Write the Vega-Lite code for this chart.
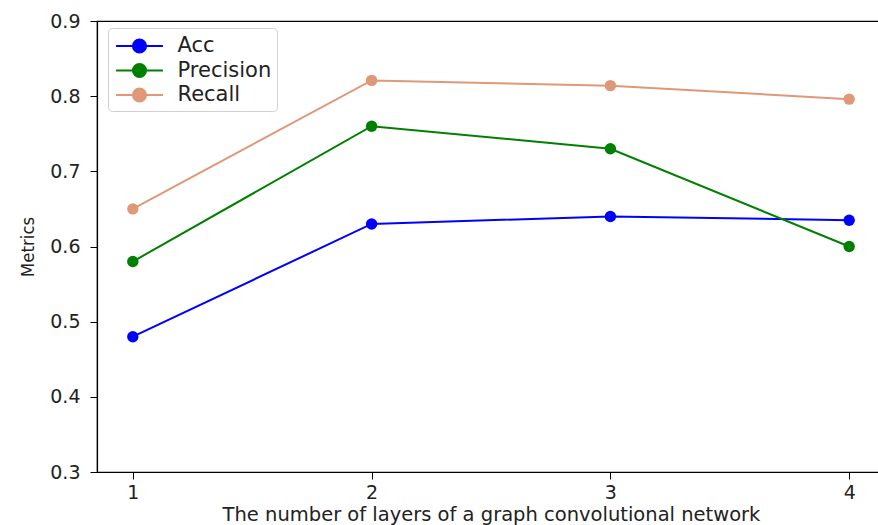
{
  "$schema": "https://vega.github.io/schema/vega-lite/v6.json",
  "autosize": {"type": "none"},
  "padding": {"left": 97, "top": 21, "right": 0, "bottom": 53},
  "width": 788,
  "height": 451,
  "background": "white",
  "config": {
    "view": {"stroke": "black", "strokeWidth": 1.2},
    "font": "DejaVu Sans",
    "axis": {"grid": false, "domainColor": "black", "tickColor": "black", "labelColor": "#222", "labelFont": "DejaVu Sans", "labelFontSize": 19, "titleFont": "DejaVu Sans", "titleFontWeight": "normal", "titleColor": "#222", "tickSize": 7, "domainWidth": 1.2}
  },
  "data": {
    "values": [
      {"layers": 1, "metric": "Acc", "value": 0.48},
      {"layers": 2, "metric": "Acc", "value": 0.63},
      {"layers": 3, "metric": "Acc", "value": 0.64},
      {"layers": 4, "metric": "Acc", "value": 0.635},
      {"layers": 1, "metric": "Precision", "value": 0.58},
      {"layers": 2, "metric": "Precision", "value": 0.76},
      {"layers": 3, "metric": "Precision", "value": 0.73},
      {"layers": 4, "metric": "Precision", "value": 0.60},
      {"layers": 1, "metric": "Recall", "value": 0.65},
      {"layers": 2, "metric": "Recall", "value": 0.821},
      {"layers": 3, "metric": "Recall", "value": 0.814},
      {"layers": 4, "metric": "Recall", "value": 0.796}
    ]
  },
  "mark": {"type": "line", "strokeWidth": 2, "point": {"filled": true, "size": 130, "opacity": 1}},
  "encoding": {
    "x": {
      "field": "layers", "type": "quantitative",
      "scale": {"domain": [0.85, 4.15], "nice": false, "zero": false},
      "axis": {"values": [1, 2, 3, 4], "format": "d", "title": "The number of layers of a graph convolutional network", "titleFontSize": 19.5, "titlePadding": 3, "labelPadding": 4}
    },
    "y": {
      "field": "value", "type": "quantitative",
      "scale": {"domain": [0.3, 0.9], "nice": false, "zero": false},
      "axis": {"values": [0.3, 0.4, 0.5, 0.6, 0.7, 0.8, 0.9], "format": ".1f", "title": "Metrics", "titleFont": "DejaVu Sans Condensed", "titleFontSize": 18.5, "titlePadding": 12, "labelPadding": 10}
    },
    "color": {
      "field": "metric", "type": "nominal",
      "scale": {"domain": ["Acc", "Precision", "Recall"], "range": ["#0000ff", "#008000", "#df9878"]},
      "legend": {
        "title": null,
        "orient": "none",
        "legendX": 11,
        "legendY": 7,
        "fillColor": "white",
        "strokeColor": "#d0d0d0",
        "cornerRadius": 4,
        "padding": 5,
        "labelFontSize": 21,
        "labelFont": "DejaVu Sans",
        "labelColor": "#222",
        "labelOffset": 25,
        "rowPadding": 0.5,
        "symbolOffset": 13.5,
        "symbolType": "M-2,0H2M0.56,0C0.56,0.309 0.309,0.56 0,0.56C-0.309,0.56 -0.56,0.309 -0.56,0C-0.56,-0.309 -0.309,-0.56 0,-0.56C0.309,-0.56 0.56,-0.309 0.56,0Z",
        "symbolSize": 550,
        "symbolStrokeWidth": 2,
        "symbolOpacity": 1
      }
    }
  }
}
